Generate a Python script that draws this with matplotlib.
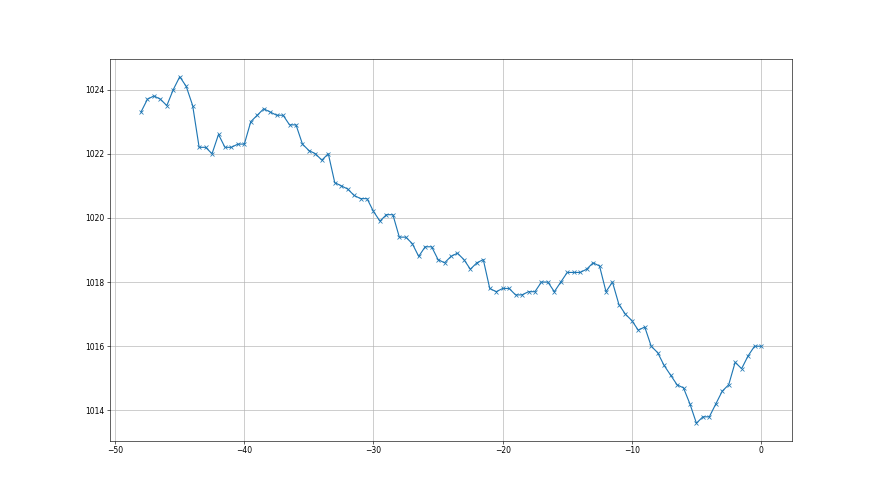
import numpy as np
import matplotlib.pyplot as plt

# hours before now, half-hour steps
hours = np.arange(-48, 0.5, 0.5)
pressure = [
    1023.3, 1023.7, 1023.8, 1023.7, 1023.5, 1024.0, 1024.4, 1024.1, 1023.5, 1022.2,
    1022.2, 1022.0, 1022.6, 1022.2, 1022.2, 1022.3, 1022.3, 1023.0, 1023.2, 1023.4,
    1023.3, 1023.2, 1023.2, 1022.9, 1022.9, 1022.3, 1022.1, 1022.0, 1021.8, 1022.0,
    1021.1, 1021.0, 1020.9, 1020.7, 1020.6, 1020.6, 1020.2, 1019.9, 1020.1, 1020.1,
    1019.4, 1019.4, 1019.2, 1018.8, 1019.1, 1019.1, 1018.7, 1018.6, 1018.8, 1018.9,
    1018.7, 1018.4, 1018.6, 1018.7, 1017.8, 1017.7, 1017.8, 1017.8, 1017.6, 1017.6,
    1017.7, 1017.7, 1018.0, 1018.0, 1017.7, 1018.0, 1018.3, 1018.3, 1018.3, 1018.4,
    1018.6, 1018.5, 1017.7, 1018.0, 1017.3, 1017.0, 1016.8, 1016.5, 1016.6, 1016.0,
    1015.8, 1015.4, 1015.1, 1014.8, 1014.7, 1014.2, 1013.6, 1013.8, 1013.8, 1014.2,
    1014.6, 1014.8, 1015.5, 1015.3, 1015.7, 1016.0, 1016.0,
]

fig, ax = plt.subplots(figsize=(16, 9), dpi=55)
ax.plot(hours, pressure, marker='x')
ax.grid(True)
fig.savefig('out.png', dpi=55)
